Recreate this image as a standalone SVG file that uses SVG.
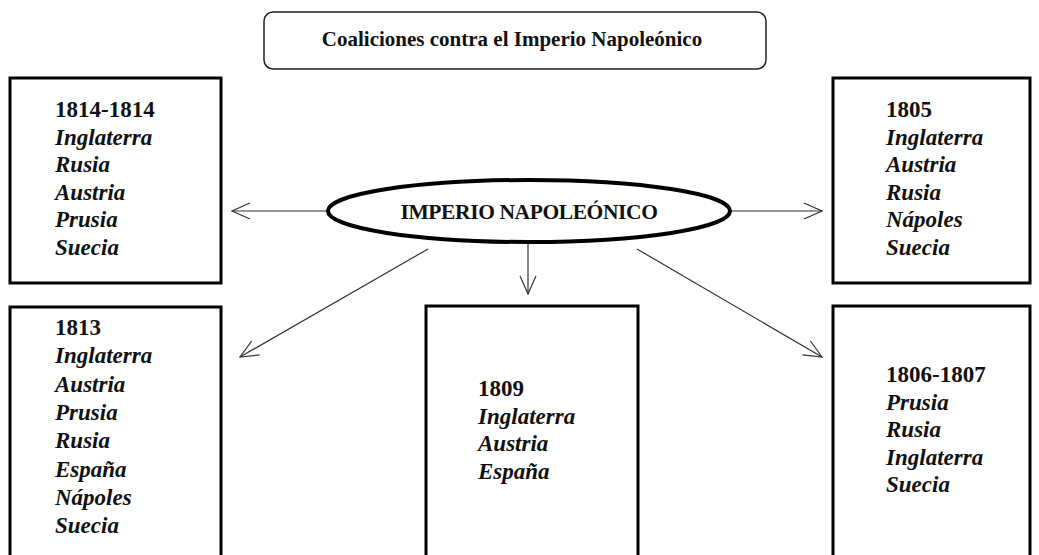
<svg xmlns="http://www.w3.org/2000/svg" width="1039" height="555" viewBox="0 0 1039 555">
<style>
.box{fill:#fff;stroke:#000;stroke-width:3}
.t{font-family:"Liberation Serif","Times New Roman",serif;font-size:23px;fill:#111}
.y{font-weight:bold}
.c{font-weight:bold;font-style:italic}
.ln{stroke:#333;stroke-width:1.2;fill:none}
</style>
<defs>
<marker id="ah" viewBox="0 0 20 20" refX="19" refY="10" markerWidth="20" markerHeight="20" markerUnits="userSpaceOnUse" orient="auto">
<path d="M1,2 L19,10 L1,18" fill="none" stroke="#333" stroke-width="1.2"/>
</marker>
</defs>
<rect width="1039" height="555" fill="#fff"/>
<g id="title">
<rect x="264" y="12" width="502" height="57" rx="9" fill="#fff" stroke="#222" stroke-width="1.5"/>
<text x="512" y="46" text-anchor="middle" class="t" style="font-size:21px;font-weight:bold">Coaliciones contra el Imperio Napoleónico</text>
</g>
<g id="connectors">
<line class="ln" x1="328" y1="211" x2="232" y2="211" marker-end="url(#ah)"/>
<line class="ln" x1="730" y1="211" x2="822" y2="211" marker-end="url(#ah)"/>
<line class="ln" x1="528" y1="243" x2="528" y2="294" marker-end="url(#ah)"/>
<line class="ln" x1="428" y1="249" x2="240" y2="357" marker-end="url(#ah)"/>
<line class="ln" x1="637" y1="249" x2="822" y2="357" marker-end="url(#ah)"/>
</g>
<g id="center">
<ellipse cx="529" cy="211" rx="201" ry="31" fill="#fff" stroke="#000" stroke-width="4"/>
<text x="529" y="219" text-anchor="middle" class="t y" style="font-size:21.5px;letter-spacing:-0.4px">IMPERIO NAPOLEÓNICO</text>
</g>
<g id="c1814">
<rect class="box" x="10" y="78" width="211" height="205"/>
<text class="t"><tspan x="55" y="117" class="y">1814-1814</tspan><tspan x="55" y="144.5" class="c">Inglaterra</tspan><tspan x="55" y="172" class="c">Rusia</tspan><tspan x="55" y="199.5" class="c">Austria</tspan><tspan x="55" y="227" class="c">Prusia</tspan><tspan x="55" y="254.5" class="c">Suecia</tspan></text>
</g>
<g id="c1805">
<rect class="box" x="833" y="78" width="197" height="205"/>
<text class="t"><tspan x="886" y="117" class="y">1805</tspan><tspan x="886" y="144.5" class="c">Inglaterra</tspan><tspan x="886" y="172" class="c">Austria</tspan><tspan x="886" y="199.5" class="c">Rusia</tspan><tspan x="886" y="227" class="c">Nápoles</tspan><tspan x="886" y="254.5" class="c">Suecia</tspan></text>
</g>
<g id="c1813">
<rect class="box" x="10" y="307" width="211" height="260"/>
<text class="t"><tspan x="55" y="335" class="y">1813</tspan><tspan x="55" y="363" class="c">Inglaterra</tspan><tspan x="55" y="391.5" class="c">Austria</tspan><tspan x="55" y="420" class="c">Prusia</tspan><tspan x="55" y="448" class="c">Rusia</tspan><tspan x="55" y="476.5" class="c">España</tspan><tspan x="55" y="505" class="c">Nápoles</tspan><tspan x="55" y="533" class="c">Suecia</tspan></text>
</g>
<g id="c1809">
<rect class="box" x="426" y="306" width="212" height="260"/>
<text class="t"><tspan x="478" y="396" class="y">1809</tspan><tspan x="478" y="423.5" class="c">Inglaterra</tspan><tspan x="478" y="451" class="c">Austria</tspan><tspan x="478" y="478.5" class="c">España</tspan></text>
</g>
<g id="c1806">
<rect class="box" x="833" y="306" width="197" height="260"/>
<text class="t"><tspan x="886" y="382" class="y">1806-1807</tspan><tspan x="886" y="409.5" class="c">Prusia</tspan><tspan x="886" y="437" class="c">Rusia</tspan><tspan x="886" y="464.5" class="c">Inglaterra</tspan><tspan x="886" y="492" class="c">Suecia</tspan></text>
</g>
</svg>
